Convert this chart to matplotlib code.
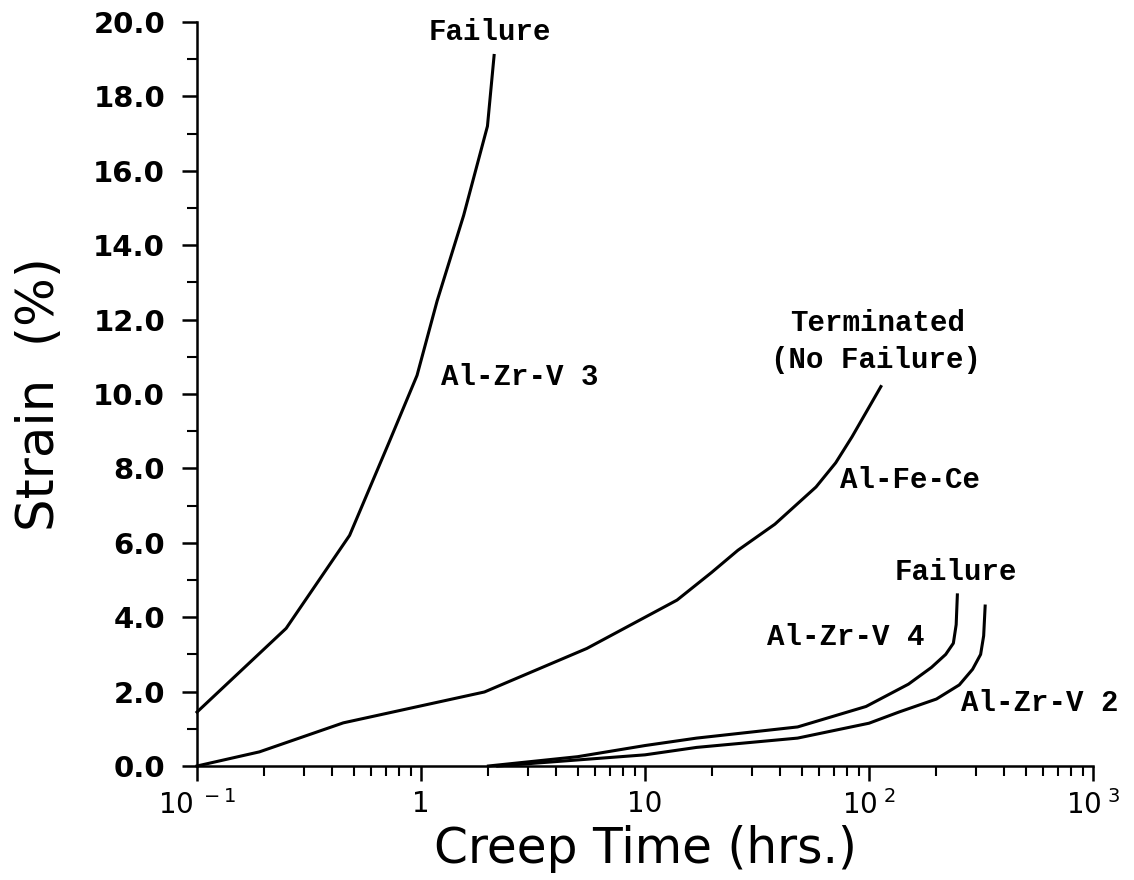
import numpy as np
import matplotlib
matplotlib.use("Agg")
import matplotlib.pyplot as plt
from matplotlib.ticker import FixedLocator, LogLocator, MultipleLocator, NullFormatter

# creep curves (time in hrs, strain in %)
t_zrv3 = [0.1, 0.25, 0.48, 0.72, 0.96, 1.18, 1.55, 1.98, 2.12]
s_zrv3 = [1.45, 3.7, 6.2, 8.7, 10.5, 12.5, 14.8, 17.2, 19.1]

t_fece = [0.1, 0.19, 0.45, 1.92, 5.5, 13.9, 19.8, 26, 38, 58, 71, 84, 113]
s_fece = [0.0, 0.38, 1.16, 1.99, 3.16, 4.46, 5.2, 5.8, 6.5, 7.5, 8.15, 8.85, 10.2]

t_zrv4 = [2.0, 5.0, 10, 17, 48, 97, 150, 190, 220, 238, 245, 248]
s_zrv4 = [0.0, 0.25, 0.55, 0.75, 1.05, 1.6, 2.2, 2.65, 3.0, 3.3, 3.8, 4.6]

t_zrv2 = [2.2, 10, 17, 48, 100, 136, 200, 253, 290, 315, 325, 330]
s_zrv2 = [0.0, 0.3, 0.5, 0.75, 1.15, 1.45, 1.8, 2.18, 2.6, 3.0, 3.5, 4.3]

x_ticks = [0.1, 1, 10, 100, 1000]
x_ticklabels = [r'10$^{\ -1}$', '1', '10', r'10$^{\ 2}$', r'10$^{\ 3}$']
y_ticks = np.arange(0, 21, 2)

# annotation text: (label, time, strain)
notes = [
    ("Failure", 2.02, 19.73),
    ("Al-Zr-V 3", 2.75, 10.46),
    ("Terminated", 109.6, 11.91),
    ("(No Failure)", 107.4, 10.91),
    ("Al-Fe-Ce", 152.7, 7.69),
    ("Failure", 245, 5.22),
    ("Al-Zr-V 4", 78.9, 3.47),
    ("Al-Zr-V 2", 578, 1.69),
]

plt.rcParams['mathtext.fontset'] = 'dejavusans'

fig = plt.figure(figsize=(11.34, 8.8), dpi=100)
ax = fig.add_axes([197 / 1134, 114 / 880, 896 / 1134, 744 / 880])

lw = 2.2
for t, s in [(t_zrv3, s_zrv3), (t_fece, s_fece), (t_zrv4, s_zrv4), (t_zrv2, s_zrv2)]:
    ax.plot(t, s, color='black', linewidth=lw, clip_on=False)

ax.set_xscale('log')
ax.set_xlim(0.1, 1000)
ax.set_ylim(0, 20)

for side in ['top', 'right']:
    ax.spines[side].set_visible(False)
for side in ['left', 'bottom']:
    ax.spines[side].set_linewidth(1.8)

ax.xaxis.set_major_locator(FixedLocator(x_ticks))
ax.set_xticklabels(x_ticklabels, fontsize=20)
ax.xaxis.set_minor_locator(LogLocator(base=10, subs=np.arange(2, 10)))
ax.xaxis.set_minor_formatter(NullFormatter())

ax.yaxis.set_major_locator(FixedLocator(y_ticks))
ax.set_yticklabels([f"{v:.1f}" for v in y_ticks], fontsize=21, fontweight='bold')
ax.yaxis.set_minor_locator(MultipleLocator(1))

ax.tick_params(axis='both', which='major', direction='out', length=11, width=1.8)
ax.tick_params(axis='both', which='minor', direction='out', length=7, width=1.5)
ax.tick_params(axis='x', which='major', pad=6)
ax.tick_params(axis='y', which='major', pad=12)

ax.set_xlabel("Creep Time (hrs.)", fontsize=35, labelpad=4)
ax.set_ylabel("Strain  (%)", fontsize=37, labelpad=20)

for label, tx, sy in notes:
    ax.text(tx, sy, label, ha='center', va='center', fontsize=21,
            family='Liberation Mono', fontweight='bold', clip_on=False)

fig.savefig("out.png", dpi=100, facecolor='white')
